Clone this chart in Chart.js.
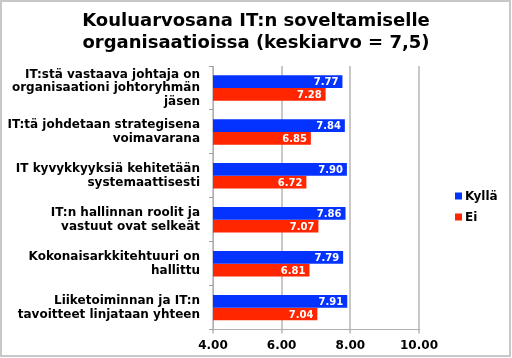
<!DOCTYPE html>
<html><head><meta charset="utf-8">
<script src="https://cdn.jsdelivr.net/npm/chart.js@4.4.1/dist/chart.umd.min.js"></script>
<style>html,body{margin:0;padding:0;background:#fff}#w{width:512px;height:358px;position:relative}</style>
</head><body><div id="w"><canvas id="c" width="512" height="358"></canvas></div>
<script>
const titleLines = ["Kouluarvosana IT:n soveltamiselle", "organisaatioissa (keskiarvo = 7,5)"];
const categories = [
  ["IT:stä vastaava johtaja on", "organisaationi johtoryhmän", "jäsen"],
  ["IT:tä johdetaan strategisena", "voimavarana"],
  ["IT kyvykkyyksiä kehitetään", "systemaattisesti"],
  ["IT:n hallinnan roolit ja", "vastuut ovat selkeät"],
  ["Kokonaisarkkitehtuuri on", "hallittu"],
  ["Liiketoiminnan ja IT:n", "tavoitteet linjataan yhteen"]
];
const seriesNames = ["Kyllä", "Ei"];
const kyllaValues = [7.77, 7.84, 7.90, 7.86, 7.79, 7.91];
const eiValues = [7.28, 6.85, 6.72, 7.07, 6.81, 7.04];
const xTicks = [4, 6, 8, 10];

const FONT = "'DejaVu Sans', Verdana, sans-serif";
const colors = ["#0433ff", "#ff2600"];

const frame = {
  id: 'frame',
  afterDraw(chart) {
    const ctx = chart.ctx;
    ctx.save();
    ctx.strokeStyle = '#c8c8c8';
    ctx.lineWidth = 2;
    ctx.strokeRect(1, 1, 509, 355);
    ctx.restore();
  }
};

const centeredTitle = {
  id: 'centeredTitle',
  afterDraw(chart) {
    const ctx = chart.ctx;
    ctx.save();
    ctx.font = "bold 18px " + FONT;
    ctx.fillStyle = '#000';
    ctx.textAlign = 'center';
    ctx.textBaseline = 'middle';
    titleLines.forEach((t, i) => ctx.fillText(t, 256, 21 + i * 22));
    ctx.restore();
  }
};

const valueLabels = {
  id: 'valueLabels',
  afterDatasetsDraw(chart) {
    const ctx = chart.ctx;
    ctx.save();
    ctx.font = "bold 10px " + FONT;
    ctx.fillStyle = '#ffffff';
    ctx.textAlign = 'right';
    ctx.textBaseline = 'middle';
    chart.data.datasets.forEach((ds, i) => {
      chart.getDatasetMeta(i).data.forEach((el, j) => {
        ctx.fillText(ds.data[j].toFixed(2), el.x - 4, el.y + 1);
      });
    });
    ctx.restore();
  }
};

const customLegend = {
  id: 'customLegend',
  afterDraw(chart) {
    const ctx = chart.ctx;
    ctx.save();
    ctx.font = "bold 12px " + FONT;
    ctx.textBaseline = 'middle';
    ctx.textAlign = 'left';
    const ys = [196, 217];
    seriesNames.forEach((n, i) => {
      ctx.fillStyle = colors[i];
      ctx.fillRect(455, ys[i] - 3.5, 7, 7);
      ctx.fillStyle = '#000';
      ctx.fillText(n, 465, ys[i] + 1);
    });
    ctx.restore();
  }
};

new Chart(document.getElementById('c'), {
  type: 'bar',
  data: {
    labels: categories,
    datasets: [
      { label: seriesNames[0], data: kyllaValues, backgroundColor: colors[0] },
      { label: seriesNames[1], data: eiValues, backgroundColor: colors[1] }
    ]
  },
  options: {
    indexAxis: 'y',
    responsive: false,
    animation: false,
    events: [],
    categoryPercentage: 0.58,
    barPercentage: 1.0,
    layout: { padding: { left: 0, right: 93, top: 66, bottom: 0 } },
    plugins: {
      legend: { display: false },
      tooltip: { enabled: false },
      title: { display: false }
    },
    scales: {
      x: {
        min: 4, max: 10,
        afterBuildTicks(s) { s.ticks = xTicks.map(v => ({ value: v })); },
        afterFit(s) { s.paddingLeft = 0; s.paddingRight = 0; },
        ticks: {
          color: '#000',
          font: { family: FONT, size: 12, weight: 'bold' },
          padding: 5,
          maxRotation: 0,
          callback: v => Number(v).toFixed(2)
        },
        grid: { color: '#c8c8c8', lineWidth: 2, tickLength: 4, drawTicks: true },
        border: { color: '#b0b0b0', width: 1 }
      },
      y: {
        afterFit(s) { s.width = 213; s.paddingTop = 0; s.paddingBottom = 0; },
        ticks: {
          color: '#000',
          font: { family: FONT, size: 12, weight: 'bold', lineHeight: 1.125 },
          padding: 9,
          autoSkip: false
        },
        grid: { drawOnChartArea: false, color: '#a0a0a0', tickLength: 4, offset: true },
        border: { color: '#b0b0b0', width: 1 }
      }
    }
  },
  plugins: [valueLabels, customLegend, centeredTitle, frame]
});
</script></body></html>
